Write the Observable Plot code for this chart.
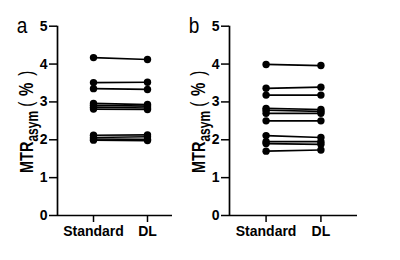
<!DOCTYPE html>
<html>
<head>
<meta charset="utf-8">
<script src="https://cdn.jsdelivr.net/npm/d3@7"></script>
<script src="https://cdn.jsdelivr.net/npm/@observablehq/plot@0.6"></script>
<style>
  html, body { margin: 0; padding: 0; background: #fff; }
  #wrap { position: relative; width: 400px; height: 260px; overflow: hidden; }
  #wrap > div { position: absolute; top: 0; }
</style>
</head>
<body>
<div id="wrap"><div id="pa" style="left:0"></div><div id="pb" style="left:172px"></div></div>
<script>
const categories = ["Standard", "DL"];
const yTicks = [0, 1, 2, 3, 4, 5];
const panelLabels = ["a", "b"];
// panel a
const aStandard = [4.17, 3.51, 3.35, 2.96, 2.91, 2.86, 2.81, 2.12, 2.06, 2.02, 1.99];
const aDL       = [4.12, 3.52, 3.33, 2.93, 2.89, 2.84, 2.80, 2.13, 2.08, 2.01, 1.98];
// panel b
const bStandard = [3.99, 3.36, 3.18, 2.83, 2.78, 2.70, 2.50, 2.11, 1.95, 1.90, 1.70];
const bDL       = [3.96, 3.39, 3.18, 2.80, 2.75, 2.70, 2.50, 2.06, 1.95, 1.88, 1.73];

function rows(std, dl) {
  const out = [];
  std.forEach((v, i) => {
    out.push({subject: i, cond: 0, value: v});
    out.push({subject: i, cond: 1, value: dl[i]});
  });
  return out;
}

function panel(data, label, right) {
  const pad = 0.667;
  const svg = Plot.plot({
    width: 200,
    height: 260,
    marginLeft: 57,
    marginRight: right,
    marginTop: 25.7,
    marginBottom: 45,
    style: {fontFamily: "Liberation Sans, Arial, sans-serif", background: "white"},
    x: {domain: [-pad, 1 + pad], axis: null},
    y: {domain: [0, 5], axis: null},
    marks: [
      Plot.ruleX([-pad], {y1: 0, y2: 5, stroke: "black", strokeWidth: 1.7}),
      Plot.ruleY([0], {stroke: "black", strokeWidth: 1.7}),
      Plot.axisY({ticks: yTicks, tickFormat: "d", tickSize: 8, tickPadding: 2, anchor: "left", fontSize: 14, fontWeight: "bold", stroke: "black", strokeWidth: 1.5, label: null, x: -pad}),
      Plot.axisX({ticks: [0, 1], tickFormat: (d) => categories[d], tickSize: 7, tickPadding: 4, anchor: "bottom", fontSize: 14, fontWeight: "bold", stroke: "black", strokeWidth: 1.5, label: null}),
      Plot.line(data, {x: "cond", y: "value", z: "subject", stroke: "black", strokeWidth: 1.7}),
      Plot.dot(data, {x: "cond", y: "value", r: 3.7, fill: "black"})
    ]
  });
  const s = d3.select(svg);
  s.append("text")
    .attr("transform", "translate(22,33) scale(1,1.15)")
    .attr("text-anchor", "middle")
    .attr("font-size", 19)
    .attr("font-family", "Liberation Sans, Arial, sans-serif")
    .text(label);
  const t = s.append("text")
    .attr("transform", "translate(33,173) rotate(-90) scale(1,1.3)")
    .attr("text-anchor", "start")
    .attr("font-size", 14.5)
    .attr("font-weight", "bold")
    .attr("font-family", "Liberation Sans, Arial, sans-serif");
  t.append("tspan").text("MTR");
  t.append("tspan").attr("font-size", 12).attr("dy", 4).text("asym");
  t.append("tspan").attr("dy", -4).attr("font-size", 15).attr("font-weight", "normal").text(" (");
  t.append("tspan").attr("font-size", 15).attr("letter-spacing", 1.5).text(" % ");
  t.append("tspan").attr("font-size", 15).attr("font-weight", "normal").text(")");
  return svg;
}

document.getElementById("pa").appendChild(panel(rows(aStandard, aDL), panelLabels[0], 17));
document.getElementById("pb").appendChild(panel(rows(bStandard, bDL), panelLabels[1], 15));
</script>
</body>
</html>
